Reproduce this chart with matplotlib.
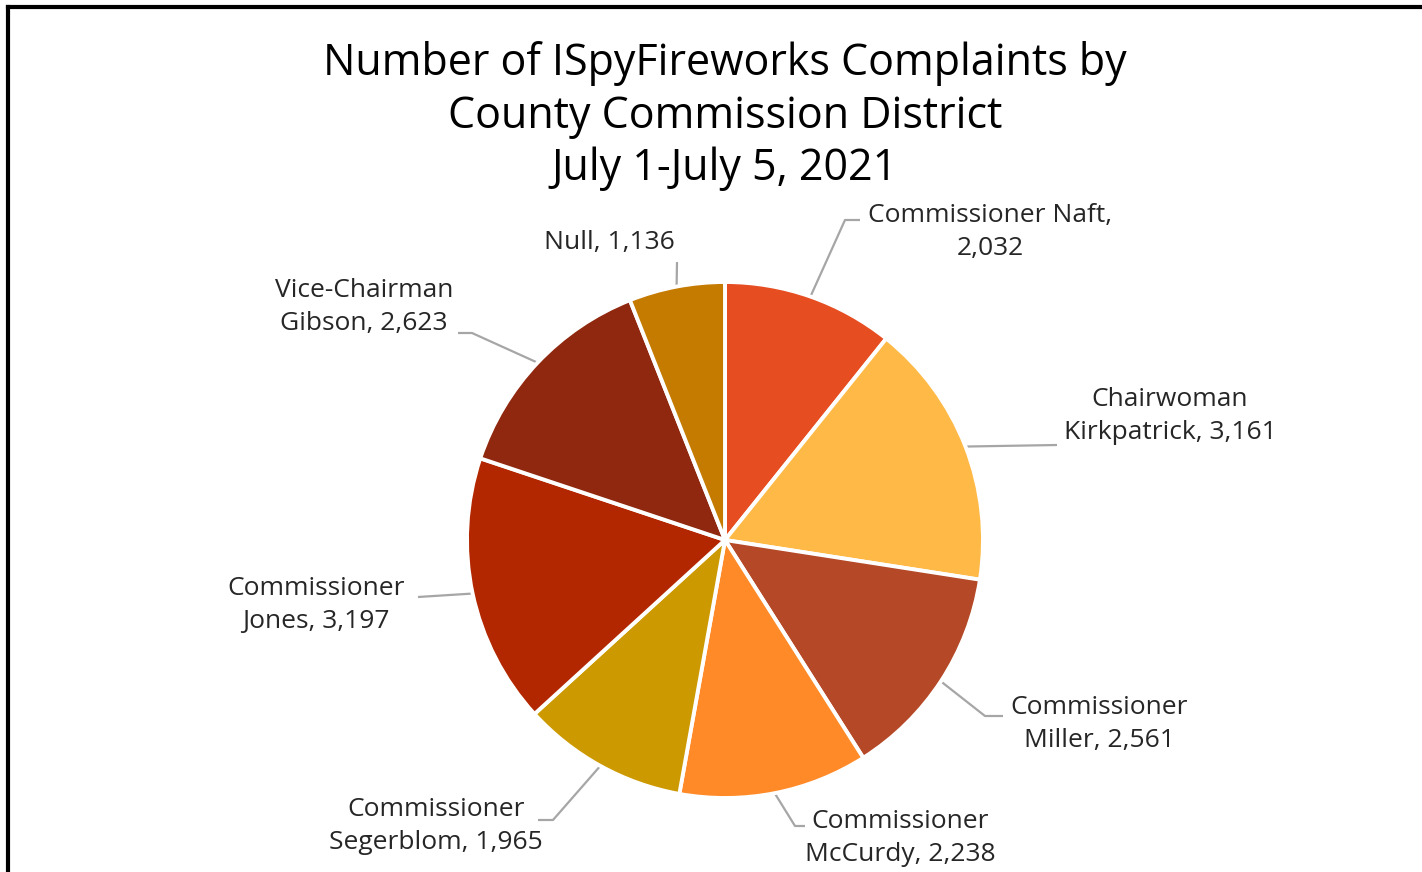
import numpy as np
import matplotlib.pyplot as plt

plt.rcParams['font.family'] = ['Open Sans', 'DejaVu Sans']

# data
districts = ['Commissioner Naft', 'Chairwoman Kirkpatrick', 'Commissioner Miller',
             'Commissioner McCurdy', 'Commissioner Segerblom', 'Commissioner Jones',
             'Vice-Chairman Gibson', 'Null']
complaints = [2032, 3161, 2561, 2238, 1965, 3197, 2623, 1136]
label_lines = ['Commissioner Naft,\n{}', 'Chairwoman\nKirkpatrick, {}', 'Commissioner\nMiller, {}',
               'Commissioner\nMcCurdy, {}', 'Commissioner\nSegerblom, {}', 'Commissioner\nJones, {}',
               'Vice-Chairman\nGibson, {}', 'Null, {}']
colors = ['#E64D21', '#FFB946', '#B54826', '#FF8A27', '#CC9A00', '#B32700', '#8F280E', '#C47B00']

W, H = 1422, 872
fig = plt.figure(figsize=(W / 100, H / 100), dpi=100)
ax = fig.add_axes([0, 0, 1, 1])

cx, cy, r = 725, 540, 258
ax.pie(complaints, colors=colors, startangle=90, counterclock=False,
       center=(cx, H - cy), radius=r, frame=True,
       wedgeprops=dict(edgecolor='white', linewidth=2.8))
ax.set_xlim(0, W)
ax.set_ylim(0, H)
ax.set_aspect('equal')
ax.axis('off')

# label layout: text centre, elbow point, line end (pixel coords from top)
layout = [
    ((990, 232), (845, 220), (860, 220)),
    ((1170, 416), None, (1057, 445)),
    ((1099, 724), (985, 716), (1003, 716)),
    ((900, 838), (795, 826), (805, 826)),
    ((436, 826), (553, 820), (538, 820)),
    ((316, 605), None, (418, 597)),
    ((364, 307), (472, 333), (458, 333)),
    ((609, 242), None, (677, 262)),
]

total = sum(complaints)
cum = np.cumsum([0] + complaints)
for i, v in enumerate(complaints):
    frac = (cum[i] + v / 2) / total
    ang = np.deg2rad(frac * 360)
    ax_x = cx + r * np.sin(ang)
    ax_y = cy - r * np.cos(ang)
    (tx, ty), elbow, end = layout[i]
    pts = [(ax_x, ax_y)] + ([elbow] if elbow else []) + [end]
    xs = [p[0] for p in pts]
    ys = [H - p[1] for p in pts]
    ax.plot(xs, ys, color='#A6A6A6', lw=1.6, solid_capstyle='butt', zorder=0)
    ax.text(tx, H - ty, label_lines[i].format(f'{v:,}'), ha='center', va='center',
            fontsize=19, color='#262626', linespacing=1.42)

ax.text(725, H - 116, 'Number of ISpyFireworks Complaints by\nCounty Commission District\nJuly 1-July 5, 2021',
        ha='center', va='center', fontsize=31, color='#000000', linespacing=1.24)

# outer frame (top and left visible)
ax.plot([8, W], [H - 7, H - 7], color='black', lw=3, clip_on=False)
ax.plot([8, 8], [H - 7, 0], color='black', lw=3, clip_on=False)

fig.savefig('out.png', dpi=100)
